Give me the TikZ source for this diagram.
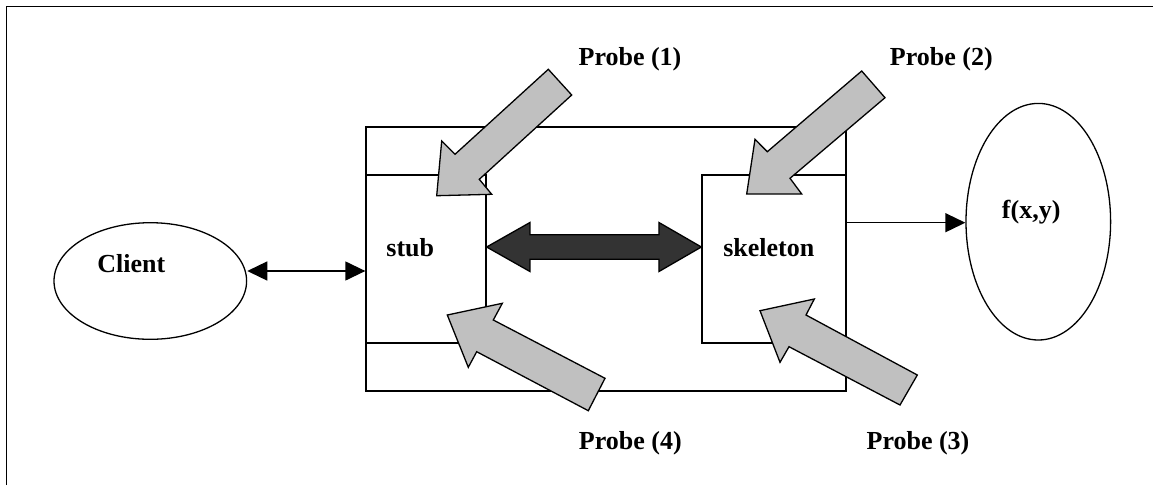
\documentclass[tikz,border=0pt]{standalone}
\usepackage{fontspec}
\setmainfont{Liberation Serif}
\usetikzlibrary{arrows.meta,calc,shapes.geometric}
\definecolor{probegray}{HTML}{C0C0C0}
\definecolor{darkarrow}{HTML}{333333}
\begin{document}
\begin{tikzpicture}[x=1pt,y=-1pt,
  line/.style={line width=1.3pt},
  boxnode/.style={draw,line width=1.3pt,rectangle,inner sep=0pt},
  ellnode/.style={draw,line width=1.3pt,ellipse,inner sep=0pt},
  lbl/.style={inner sep=0pt,anchor=base,font=\fontsize{26}{30}\selectfont\bfseries},
  conn/.style={line width=1.3pt,-{Triangle[length=20pt,width=19pt]}},
  dconn/.style={line width=1.3pt,{Triangle[length=20pt,width=19pt]}-{Triangle[length=20pt,width=19pt]}},
  probe/.style={draw,line width=1.3pt,fill=probegray,line join=miter}]
\useasboundingbox (0,0) rectangle (1153,485);
% page frame (top and left)
\draw[line] (6.5,485) -- (6.5,6.5) -- (1153,6.5);
% boxes
\node[boxnode,minimum width=480,minimum height=264] (big) at (606,259) {};
\node[boxnode,minimum width=120,minimum height=168] (stub) at (426,259) {};
\node[boxnode,minimum width=144,minimum height=168] (skel) at (774,259) {};
% ellipses
\node[ellnode,minimum width=192.6,minimum height=116.6] (client) at (150.3,281) {};
\node[ellnode,minimum width=144.6,minimum height=236.6] (fxy) at (1038.3,221.7) {};
% labels
\node[lbl] (clientlbl) at (131.3,272.7) {Client};
\node[lbl] (stublbl) at (410.3,256.7) {stub};
\node[lbl] (skellbl) at (768.8,256.7) {skeleton};
\node[lbl] (fxylbl) at (1031.2,218) {f(x,y)};
\node[lbl] (p1) at (630,65) {Probe (1)};
\node[lbl] (p2) at (941.3,65) {Probe (2)};
\node[lbl] (p3) at (918,449.5) {Probe (3)};
\node[lbl] (p4) at (630.3,449.5) {Probe (4)};
% connectors
\coordinate (crow) at (0,271);
\coordinate (frow) at (0,222.7);
\draw[dconn] (client.east |- crow) -- (big.west |- crow);
\draw[conn] (skel.east |- frow) -- (fxy.west |- frow);
% big double arrow between stub and skeleton
\coordinate (dl) at (stub.east |- 0,247);
\coordinate (dr) at (skel.west |- 0,247);
\draw[line,fill=darkarrow,line join=miter] (dl) -- ++(43.3,-24.5) -- ++(0,12.3)
  -- ($(dr)+(-42.4,-12.2)$) -- ++(0,-12.3) -- (dr) -- ++(-42.4,24.5) -- ++(0,-12.3)
  -- ($(dl)+(43.3,12.2)$) -- ++(0,12.3) -- cycle;
% probe arrows
\draw[probe] (436.7,195.7) -- (491.7,194.3) -- (479.3,179.3) -- (571.7,95) -- (548.3,69.3) -- (455,154.3) -- (441.7,141) -- cycle;
\draw[probe] (746.7,194) -- (801.7,194) -- (790,178.3) -- (885,97.7) -- (861.7,71) -- (767.3,151.7) -- (755,139.3) -- cycle;
\draw[probe] (760,310.7) -- (814.3,299) -- (806,315) -- (917.3,375) -- (900,405) -- (789,346.7) -- (780,362.3) -- cycle;
\draw[probe] (447.3,315) -- (502.3,303.3) -- (493.3,320) -- (605,378.3) -- (588.3,410.7) -- (476.7,351.7) -- (468.3,367.3) -- cycle;
\end{tikzpicture}
\end{document}
